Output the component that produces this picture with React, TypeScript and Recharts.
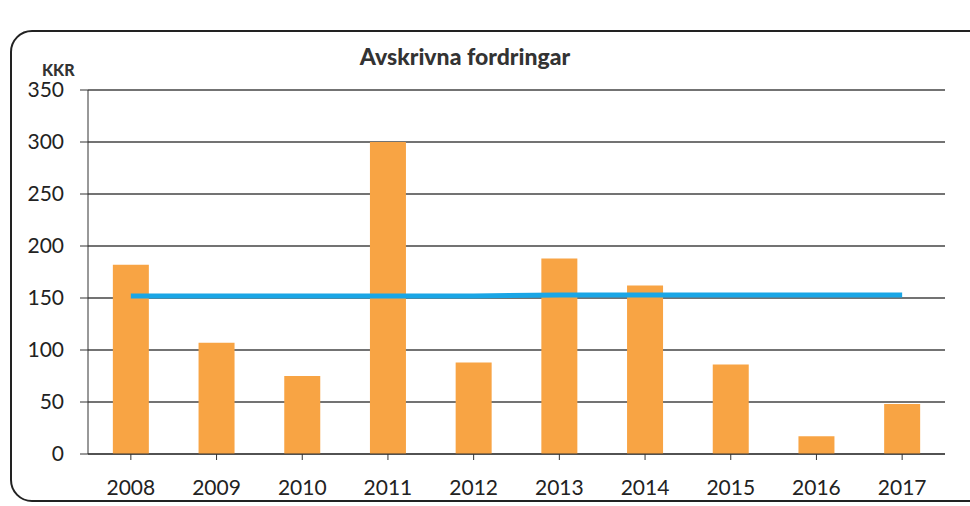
import React from "react";
import { ComposedChart, Bar, Line, XAxis, YAxis, CartesianGrid } from "recharts";

const years = ["2008", "2009", "2010", "2011", "2012", "2013", "2014", "2015", "2016", "2017"];
const writtenOff = [182, 107, 75, 300, 88, 188, 162, 86, 17, 48];
const average = [152, 152, 152, 152, 152, 153, 153, 153, 153, 153];
const yTicks = [0, 50, 100, 150, 200, 250, 300, 350];

const data = years.map((y, i) => ({ year: y, value: writtenOff[i], avg: average[i] }));

const font = "Lato, 'Open Sans', sans-serif";

export default function App() {
  return (
    <div style={{ position: "absolute", left: 0, top: 0, width: 970, height: 506, background: "#fff", overflow: "hidden", fontFamily: font }}>
      <div
        style={{
          position: "absolute",
          left: 10,
          top: 30,
          width: 990,
          height: 472,
          border: "2px solid #222",
          borderRadius: 22,
          boxSizing: "border-box",
        }}
      />
      <div style={{ position: "absolute", left: 0, width: 930, top: 42, textAlign: "center", fontWeight: 900, fontSize: 23, color: "#333" }}>
        Avskrivna fordringar
      </div>
      <div style={{ position: "absolute", left: 42, top: 60, fontWeight: 900, fontSize: 16, color: "#333" }}>KKR</div>
      <div style={{ position: "absolute", left: 0, top: 0 }}>
        <ComposedChart width={970} height={506} data={data} margin={{ top: 90, right: 25, bottom: 4, left: 0 }} barCategoryGap="29%">
          <CartesianGrid vertical={false} stroke="#444" strokeWidth={1.3} />
          <XAxis
            dataKey="year"
            tick={{ fill: "#222", fontSize: 21, fontFamily: font }}
            tickSize={6}
            tickMargin={20}
            height={48}
            axisLine={{ stroke: "#333" }}
            tickLine={{ stroke: "#333" }}
          />
          <YAxis
            domain={[0, 350]}
            ticks={yTicks}
            width={88}
            tick={{ fill: "#222", fontSize: 21, fontFamily: font }}
            tickSize={8}
            tickMargin={16}
            axisLine={{ stroke: "#333" }}
            tickLine={{ stroke: "#333" }}
          />
          <Bar dataKey="value" fill="#F8A444" isAnimationActive={false} />
          <Line dataKey="avg" stroke="#1AA6E6" strokeWidth={5} dot={false} isAnimationActive={false} />
        </ComposedChart>
      </div>
    </div>
  );
}
